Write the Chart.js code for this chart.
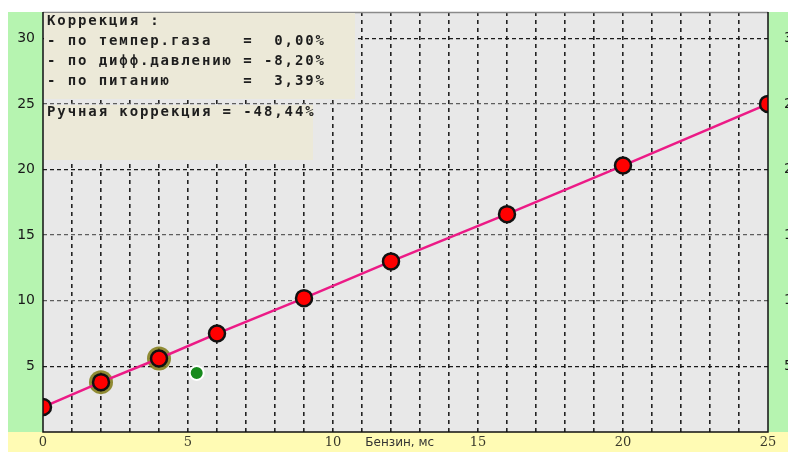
<!DOCTYPE html>
<html>
<head>
<meta charset="utf-8">
<script src="https://cdn.jsdelivr.net/npm/chart.js@4/dist/chart.umd.min.js"></script>
<style>
    html, body { margin: 0; padding: 0; background: #ffffff; }
    canvas { display: block; }
</style>
</head>
<body>
<canvas id="fuelChart" width="788" height="452"></canvas>
<script>
// Fuel map points (x = petrol time, ms)
const fuelX = [0, 2, 4, 6, 9, 12, 16, 20, 25];
const fuelY = [1.9, 3.8, 5.6, 7.5, 10.2, 13.0, 16.6, 20.3, 25.0];
// points with the olive halo (indices into fuelX / fuelY)
const haloIndex = [1, 2];
// current working point
const currentX = [5.3];
const currentY = [4.5];

// axis ticks
const yTicks = [5, 10, 15, 20, 25, 30];
const xTickLabels = [0, 5, 10, 15, 20, 25];
const xTitle = 'Бензин, мс';

// correction panel text
const panelTop = [
    'Коррекция :',
    '- по темпер.газа   =  0,00%',
    '- по дифф.давлению = -8,20%',
    '- по питанию       =  3,39%'
];
const panelBottom = ['Ручная коррекция = -48,44%'];

// fixed axis sizes, no extra label padding
function fitY(width) {
    return scale => {
        scale.width = width;
        scale.paddingTop = 0;
        scale.paddingBottom = 0;
    };
}

// Backgrounds, borders and the text panel
const framePlugin = {
    id: 'frame',
    beforeDraw(chart) {
        const ctx = chart.ctx;
        const a = chart.chartArea;
        ctx.save();
        ctx.fillStyle = '#ffffff';
        ctx.fillRect(0, 0, chart.width, chart.height);
        // green side strips
        ctx.fillStyle = '#b6f4b0';
        ctx.fillRect(8, a.top, a.left - 8, a.bottom - a.top);
        ctx.fillRect(a.right, a.top, chart.width - a.right, a.bottom - a.top);
        // yellow bottom strip
        ctx.fillStyle = '#fffbb4';
        ctx.fillRect(8, a.bottom, chart.width - 8, chart.height - a.bottom);
        // plot area
        ctx.fillStyle = '#e8e8e8';
        ctx.fillRect(a.left, a.top, a.right - a.left, a.bottom - a.top);
        ctx.restore();
    },
    afterDatasetsDraw(chart) {
        const ctx = chart.ctx;
        const a = chart.chartArea;
        ctx.save();
        ctx.strokeStyle = '#8a8a8a';
        ctx.lineWidth = 1.5;
        ctx.beginPath();
        ctx.moveTo(a.left, a.top + 0.5);
        ctx.lineTo(a.right, a.top + 0.5);
        ctx.stroke();
        ctx.strokeStyle = '#111111';
        ctx.lineWidth = 1.5;
        ctx.beginPath();
        ctx.moveTo(a.left, a.top);
        ctx.lineTo(a.left, a.bottom);
        ctx.lineTo(a.right, a.bottom);
        ctx.lineTo(a.right, a.top);
        ctx.stroke();

        // axis title sits in the tick label row
        const xs = chart.scales.x;
        ctx.fillStyle = '#333333';
        ctx.font = '12px "DejaVu Sans"';
        ctx.textAlign = 'center';
        ctx.textBaseline = 'middle';
        ctx.fillText(xTitle, xs.getPixelForValue(12.3), a.bottom + 11);
        ctx.restore();
    },
    afterDraw(chart) {
        const ctx = chart.ctx;
        const a = chart.chartArea;
        ctx.save();
        ctx.fillStyle = '#ece9d8';
        ctx.fillRect(a.left + 1, a.top + 1, 311, 86);
        ctx.fillRect(a.left + 1, a.top + 93, 269, 55);
        ctx.fillStyle = '#1e1e1e';
        ctx.font = 'bold 14px "DejaVu Sans Mono"';
        ctx.letterSpacing = '1.9px';
        ctx.textAlign = 'left';
        ctx.textBaseline = 'middle';
        panelTop.forEach((line, i) => {
            ctx.fillText(line, a.left + 4, a.top + 9 + i * 20);
        });
        panelBottom.forEach((line, i) => {
            ctx.fillText(line, a.left + 4, a.top + 100 + i * 20);
        });
        ctx.restore();
    }
};

document.addEventListener('DOMContentLoaded', function() {
    const ctx = document.getElementById('fuelChart').getContext('2d');

    const mainPoints = fuelX.map((x, i) => ({ x: x, y: fuelY[i] }));
    const haloPoints = haloIndex.map(i => ({ x: fuelX[i], y: fuelY[i] }));
    const currentPoints = currentX.map((x, i) => ({ x: x, y: currentY[i] }));

    new Chart(ctx, {
        type: 'scatter',
        data: {
            datasets: [
                {
                    data: currentPoints,
                    pointRadius: 7,
                    pointBackgroundColor: '#178a1c',
                    pointBorderColor: '#ffffff',
                    pointBorderWidth: 2,
                    clip: 0,
                    order: 0
                },
                {
                    data: mainPoints,
                    showLine: true,
                    borderColor: '#ec1a86',
                    borderWidth: 2.5,
                    pointRadius: 8,
                    pointBackgroundColor: '#ff0000',
                    pointBorderColor: '#111111',
                    pointBorderWidth: 2.5,
                    clip: 0,
                    order: 1
                },
                {
                    data: haloPoints,
                    pointRadius: 12,
                    pointBackgroundColor: 'rgba(128, 122, 20, 0.85)',
                    pointBorderWidth: 0,
                    clip: 0,
                    order: 2
                }
            ]
        },
        options: {
            responsive: false,
            animation: false,
            events: [],
            layout: {
                padding: { top: 12, left: 0, right: 0, bottom: 0 }
            },
            plugins: {
                legend: { display: false },
                tooltip: { enabled: false }
            },
            scales: {
                x: {
                    type: 'linear',
                    min: 0,
                    max: 25,
                    afterFit: scale => {
                        scale.height = 20;
                        scale.paddingLeft = 0;
                        scale.paddingRight = 0;
                    },
                    border: { display: false, dash: [4, 4] },
                    grid: {
                        drawTicks: false,
                        color: c => (c.tick.value === 0 || c.tick.value === 25) ? 'rgba(0,0,0,0)' : '#222222',
                        lineWidth: 1.6
                    },
                    ticks: {
                        stepSize: 1,
                        autoSkip: false,
                        maxRotation: 0,
                        padding: 3,
                        color: '#3a3a2a',
                        font: { family: '"DejaVu Serif"', size: 13 },
                        callback: v => xTickLabels.includes(v) ? String(v) : ''
                    }
                },
                y: {
                    type: 'linear',
                    position: 'left',
                    min: 0,
                    max: 32,
                    afterFit: fitY(43),
                    afterBuildTicks: scale => { scale.ticks = yTicks.map(v => ({ value: v })); },
                    border: { display: false, dash: [4, 3] },
                    grid: {
                        drawTicks: false,
                        color: c => [10, 15, 25].includes(c.tick.value) ? '#5e5e5e' : '#1a1a1a',
                        lineWidth: 1.3
                    },
                    ticks: {
                        padding: 8,
                        color: '#1a1a1a',
                        font: { family: '"DejaVu Sans"', size: 14 }
                    }
                },
                y2: {
                    type: 'linear',
                    position: 'right',
                    min: 0,
                    max: 32,
                    afterFit: fitY(20),
                    afterBuildTicks: scale => { scale.ticks = yTicks.map(v => ({ value: v })); },
                    border: { display: false },
                    grid: { display: false },
                    ticks: {
                        padding: 8,
                        color: '#1a1a1a',
                        font: { family: '"DejaVu Sans"', size: 14 }
                    }
                }
            }
        },
        plugins: [framePlugin]
    });
});
</script>
</body>
</html>
